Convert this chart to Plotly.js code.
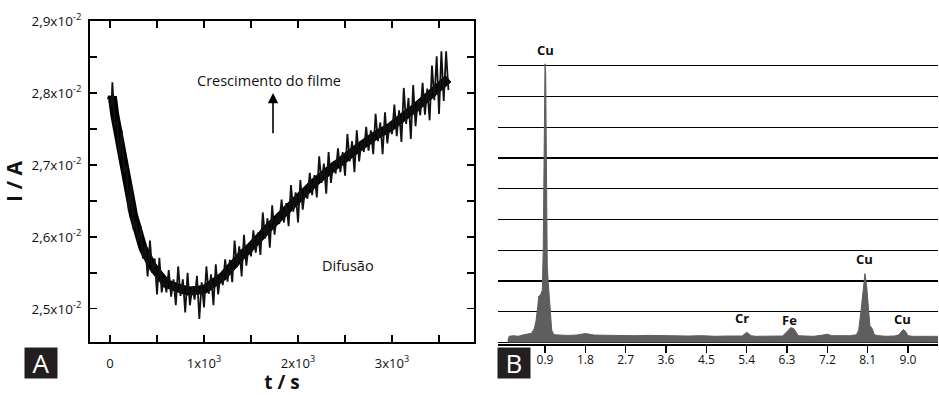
<!DOCTYPE html>
<html>
<head>
<meta charset="utf-8">
<script src="https://cdn.plot.ly/plotly-3.0.1.min.js"></script>
<style>html,body{margin:0;padding:0;background:#fff;}#chart{width:939px;height:395px;}</style>
</head>
<body>
<div id="chart"></div>
<script>
// Panel A: current (in units of 10^-2 A) versus time (s)
const timeS = [15,25,50,75,100,125,150,175,200,225,250,275,300,325,350,375,400,425,450,475,500,525,550,575,600,625,650,675,700,725,750,775,800,825,850,875,900,925,950,975,1000,1025,1050,1075,1100,1125,1150,1175,1200,1225,1250,1275,1300,1325,1350,1375,1400,1425,1450,1475,1500,1525,1550,1575,1600,1625,1650,1675,1700,1725,1750,1775,1800,1825,1850,1875,1900,1925,1950,1975,2000,2025,2050,2075,2100,2125,2150,2175,2200,2225,2250,2275,2300,2325,2350,2375,2400,2425,2450,2475,2500,2525,2550,2575,2600,2625,2650,2675,2700,2725,2750,2775,2800,2825,2850,2875,2900,2925,2950,2975,3000,3025,3050,3075,3100,3125,3150,3175,3200,3225,3250,3275,3300,3325,3350,3375,3400,3425,3450,3475,3500,3525,3550,3575,3600];
// noisy recorded signal
const currentE2 = [2.78,2.815,2.755,2.76,2.71,2.748,2.69,2.698,2.635,2.673,2.61,2.622,2.593,2.615,2.57,2.588,2.545,2.595,2.55,2.57,2.52,2.571,2.523,2.544,2.523,2.554,2.517,2.541,2.505,2.559,2.518,2.541,2.495,2.55,2.505,2.53,2.513,2.546,2.486,2.537,2.502,2.559,2.521,2.548,2.505,2.562,2.52,2.547,2.533,2.569,2.538,2.568,2.537,2.595,2.558,2.587,2.545,2.603,2.56,2.588,2.573,2.609,2.578,2.606,2.575,2.634,2.598,2.626,2.585,2.644,2.603,2.631,2.618,2.652,2.62,2.647,2.615,2.672,2.635,2.662,2.62,2.679,2.638,2.666,2.653,2.689,2.658,2.686,2.655,2.712,2.675,2.702,2.66,2.718,2.675,2.703,2.688,2.723,2.69,2.718,2.685,2.743,2.705,2.733,2.69,2.748,2.705,2.733,2.718,2.753,2.72,2.748,2.715,2.771,2.733,2.759,2.715,2.773,2.73,2.758,2.743,2.784,2.74,2.776,2.732,2.807,2.757,2.793,2.736,2.811,2.754,2.79,2.769,2.814,2.77,2.806,2.762,2.838,2.79,2.851,2.771,2.858,2.789,2.858,2.804];
// dark core of the noise band, read at the same times
const coreE2 = [2.79,2.795,2.77,2.75,2.735,2.718,2.70,2.683,2.665,2.648,2.63,2.617,2.605,2.595,2.585,2.578,2.57,2.565,2.56,2.555,2.55,2.546,2.543,2.539,2.535,2.534,2.532,2.531,2.53,2.529,2.528,2.526,2.525,2.525,2.525,2.525,2.525,2.526,2.526,2.527,2.527,2.529,2.531,2.533,2.535,2.537,2.54,2.542,2.545,2.549,2.553,2.558,2.562,2.565,2.568,2.572,2.575,2.578,2.58,2.583,2.585,2.589,2.593,2.596,2.60,2.604,2.608,2.611,2.615,2.619,2.623,2.626,2.63,2.632,2.635,2.637,2.64,2.642,2.645,2.647,2.65,2.654,2.658,2.661,2.665,2.669,2.673,2.676,2.68,2.682,2.685,2.687,2.69,2.692,2.695,2.697,2.70,2.702,2.705,2.707,2.71,2.712,2.715,2.717,2.72,2.722,2.725,2.727,2.73,2.732,2.735,2.737,2.74,2.741,2.743,2.744,2.745,2.747,2.75,2.752,2.755,2.757,2.76,2.762,2.765,2.767,2.77,2.772,2.775,2.777,2.78,2.782,2.785,2.787,2.79,2.792,2.795,2.799,2.803,2.806,2.81,2.812,2.815,2.817,2.82];
const aYTickVals = [2.45,2.5,2.55,2.6,2.65,2.7,2.75,2.8,2.85,2.9];
const aYTickText = ['','2,5x10<sup>-2</sup>','','2,6x10<sup>-2</sup>','','2,7x10<sup>-2</sup>','','2,8x10<sup>-2</sup>','','2,9x10<sup>-2</sup>'];
const aXTickVals = [0,500,1000,1500,2000,2500,3000,3500];
const aXTickText = ['0','','1x10<sup>3</sup>','','2x10<sup>3</sup>','','3x10<sup>3</sup>',''];

// Panel B: EDS spectrum (energy keV, relative counts)
const energyKeV = [0.07,0.1,0.2,0.3,0.4,0.5,0.6,0.66,0.7,0.74,0.76,0.8,0.84,0.86,0.87,0.885,0.9,0.915,0.93,0.95,0.97,1.0,1.03,1.05,1.1,1.2,1.4,1.6,1.8,2.0,2.3,2.6,2.9,3.2,3.5,3.8,4.1,4.4,4.7,5.0,5.2,5.3,5.4,5.5,5.6,5.8,6.0,6.2,6.3,6.38,6.45,6.55,6.7,6.9,7.1,7.2,7.3,7.5,7.7,7.85,7.9,7.95,8.0,8.04,8.08,8.12,8.15,8.2,8.25,8.35,8.5,8.7,8.8,8.85,8.9,8.95,9.0,9.1,9.3,9.5,9.67];
const counts = [0.05,0.2,0.22,0.2,0.24,0.28,0.3,0.45,0.7,1.2,1.5,1.55,1.7,3.0,5.0,8.8,9.06,8.8,6.0,2.5,2.0,1.5,1.0,0.4,0.25,0.24,0.23,0.24,0.29,0.24,0.23,0.24,0.22,0.23,0.22,0.23,0.21,0.22,0.2,0.21,0.2,0.21,0.33,0.22,0.2,0.21,0.2,0.21,0.35,0.48,0.45,0.22,0.21,0.2,0.24,0.27,0.22,0.21,0.22,0.25,0.4,1.0,1.7,2.24,1.8,0.9,0.55,0.45,0.25,0.22,0.2,0.21,0.25,0.35,0.42,0.35,0.22,0.2,0.21,0.2,0.2];
const bXTickVals = [0.9,1.8,2.7,3.6,4.5,5.4,6.3,7.2,8.1,9.0];
const bXTickText = ['0.9','1.8','2.7','3.6','4.5','5.4','6.3','7.2','8.1','9.0'];
const peakLabels = ['Cu','Cr','Fe','Cu','Cu'];
const peakLabelX = [0.9,5.29,6.36,8.03,8.87];
const peakLabelY = [9.51,0.8,0.73,2.72,0.76];

const W = 939, H = 395;
const px = v => v / W;
const py = v => (H - v) / H;
const FONT = 'Open Sans, DejaVu Sans, sans-serif';

const traces = [
  {x: timeS, y: coreE2, type: 'scatter', mode: 'lines', xaxis: 'x', yaxis: 'y',
   line: {color: '#000', width: 9}, hoverinfo: 'skip'},
  {x: timeS, y: currentE2, type: 'scatter', mode: 'lines', xaxis: 'x', yaxis: 'y',
   line: {color: '#111', width: 1.8}, hoverinfo: 'skip'},
  {x: energyKeV, y: counts, type: 'scatter', mode: 'lines', xaxis: 'x2', yaxis: 'y2',
   fill: 'tozeroy', fillcolor: '#5e5e5e', line: {color: '#5e5e5e', width: 1}, hoverinfo: 'skip'}
];

const annotations = [
  {xref: 'x', yref: 'y', x: 1686, y: 2.818, text: 'Crescimento do filme', showarrow: false,
   font: {family: FONT, size: 14.5, color: '#111'}},
  {xref: 'x', yref: 'y', x: 1734, y: 2.8, axref: 'x', ayref: 'y', ax: 1734, ay: 2.742, text: '',
   showarrow: true, arrowhead: 2, arrowsize: 1.3, arrowwidth: 1.6, arrowcolor: '#000'},
  {xref: 'x', yref: 'y', x: 2530, y: 2.56, text: 'Difusão', showarrow: false,
   font: {family: FONT, size: 14.5, color: '#111'}},
  {xref: 'paper', yref: 'paper', x: px(24), y: py(379), text: 'A', showarrow: false,
   bgcolor: '#231f20', width: 30, height: 28, font: {family: FONT, size: 26, color: '#fff'}},
  {xref: 'paper', yref: 'paper', x: px(513.5), y: py(379), text: 'B', showarrow: false,
   bgcolor: '#231f20', width: 30, height: 28, font: {family: FONT, size: 26, color: '#fff'}}
];
peakLabels.forEach((t, i) => annotations.push({
  xref: 'x2', yref: 'y2', x: peakLabelX[i], y: peakLabelY[i], text: '<b>' + t + '</b>',
  showarrow: false, font: {family: FONT, size: 13, color: '#111'}
}));

const layout = {
  width: W, height: H,
  margin: {l: 0, r: 0, t: 0, b: 0},
  paper_bgcolor: '#fff', plot_bgcolor: '#fff',
  showlegend: false,
  font: {family: FONT, color: '#111'},
  xaxis: {
    domain: [px(90), px(474)], range: [-213, 3872], anchor: 'y',
    tickmode: 'array', tickvals: aXTickVals, ticktext: aXTickText,
    ticks: 'inside', ticklen: 7, tickwidth: 1.2, tickcolor: '#000',
    showline: true, linewidth: 2, linecolor: '#000', mirror: 'ticks',
    showgrid: false, zeroline: false, ticklabelstandoff: 8,
    tickfont: {family: FONT, size: 13, color: '#111'},
    title: {text: '<b>t / s</b>', font: {family: FONT, size: 19, color: '#111'}, standoff: 7}
  },
  yaxis: {
    domain: [py(342), py(21)], range: [2.454, 2.9], anchor: 'x',
    tickmode: 'array', tickvals: aYTickVals, ticktext: aYTickText,
    ticks: 'inside', ticklen: 7, tickwidth: 1.2, tickcolor: '#000',
    showline: true, linewidth: 2, linecolor: '#000', mirror: 'ticks',
    showgrid: false, zeroline: false, ticklabelstandoff: 4,
    tickfont: {family: FONT, size: 13.5, color: '#111'},
    title: {text: '<b>I / A</b>', font: {family: FONT, size: 21, color: '#111'}, standoff: 4}
  },
  xaxis2: {
    domain: [px(498), px(938)], range: [-0.149, 9.67], anchor: 'y2',
    tickmode: 'array', tickvals: bXTickVals, ticktext: bXTickText,
    ticks: 'outside', ticklen: 7, tickwidth: 1.2, tickcolor: '#000',
    showline: true, linewidth: 1.5, linecolor: '#000',
    showgrid: false, zeroline: false, ticklabelstandoff: -3,
    tickfont: {family: FONT, size: 12, color: '#111'}
  },
  yaxis2: {
    domain: [py(344), py(34)], range: [-0.05, 10.03], anchor: 'x2',
    tickmode: 'linear', tick0: 0, dtick: 1,
    showticklabels: false, ticks: '',
    showgrid: true, gridcolor: '#000', gridwidth: 1.3,
    zeroline: true, zerolinecolor: '#000', zerolinewidth: 1.5,
    showline: false
  },
  annotations: annotations
};

Plotly.newPlot('chart', traces, layout, {displayModeBar: false, staticPlot: true});
</script>
</body>
</html>
